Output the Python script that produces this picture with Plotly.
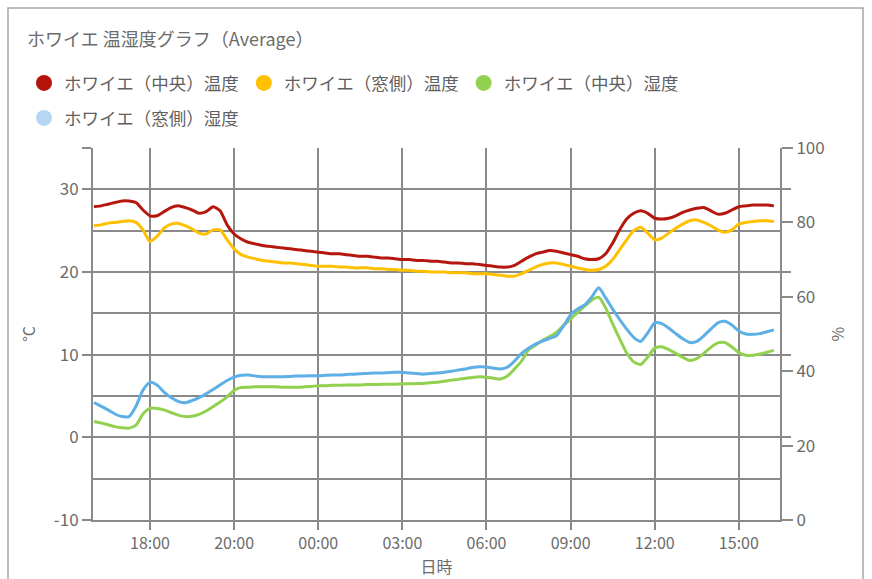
import plotly.graph_objects as go

# ---------------- data ----------------
times = [
    "16:40", "16:50", "17:00", "17:10", "17:20", "17:30", "17:40", "17:50",
    "18:00", "18:10", "18:20", "18:30", "18:40", "18:50", "19:00", "19:10", "19:20", "19:30", "19:40", "19:50",
    "20:00", "20:20", "20:40", "21:00", "21:20", "21:40", "22:00", "22:20", "22:40", "23:00", "23:20", "23:40",
    "00:00", "00:15", "00:30", "00:45", "01:00", "01:15", "01:30", "01:45", "02:00", "02:15", "02:30", "02:45",
    "03:00", "03:15", "03:30", "03:45", "04:00", "04:15", "04:30", "04:45", "05:00", "05:15", "05:30", "05:45",
    "06:00", "06:15", "06:30", "06:45", "07:00", "07:15", "07:30", "07:45", "08:00", "08:15", "08:30", "08:45",
    "09:00", "09:15", "09:30", "09:45", "10:00", "10:15", "10:30", "10:45", "11:00", "11:15", "11:30", "11:45",
    "12:00", "12:15", "12:30", "12:45", "13:00", "13:15", "13:30", "13:45", "14:00", "14:15", "14:30", "14:45",
    "15:00", "15:15", "15:30", "15:45", "16:00", "16:15",
]

tick_labels = ["18:00", "20:00", "00:00", "03:00", "06:00", "09:00", "12:00", "15:00"]

temp_center = [
    27.9, 28.0, 28.2, 28.4, 28.6, 28.6, 28.4, 27.5,
    26.8, 26.8, 27.3, 27.8, 28.0, 27.8, 27.5, 27.1, 27.3, 27.9, 27.4, 25.7,
    24.6, 24.0, 23.6, 23.4, 23.2, 23.1, 23.0, 22.9, 22.8, 22.7, 22.6, 22.5,
    22.4, 22.3, 22.2, 22.2, 22.1, 22.0, 21.9, 21.9, 21.8, 21.7, 21.7, 21.6,
    21.5, 21.5, 21.4, 21.4, 21.3, 21.3, 21.2, 21.1, 21.1, 21.0, 21.0, 20.9,
    20.8, 20.7, 20.6, 20.6, 20.8, 21.3, 21.8, 22.2, 22.4, 22.6, 22.5, 22.3,
    22.1, 21.9, 21.6, 21.5, 21.6, 22.2, 23.5, 25.1, 26.4, 27.1, 27.4, 27.1,
    26.5, 26.4, 26.5, 26.8, 27.2, 27.5, 27.7, 27.8, 27.4, 27.0, 27.1, 27.5,
    27.9, 28.0, 28.1, 28.1, 28.1, 28.0,
]

temp_window = [
    25.6, 25.7, 25.9, 26.0, 26.1, 26.2, 26.0, 25.1,
    23.7, 24.3, 25.3, 25.8, 25.9, 25.6, 25.2, 24.7, 24.6, 25.1, 25.1, 23.9,
    22.8, 22.1, 21.8, 21.6, 21.4, 21.3, 21.2, 21.1, 21.1, 21.0, 20.9, 20.8,
    20.7, 20.7, 20.7, 20.6, 20.6, 20.5, 20.5, 20.5, 20.4, 20.4, 20.3, 20.3,
    20.2, 20.2, 20.1, 20.1, 20.0, 20.0, 20.0, 19.9, 19.9, 19.9, 19.8, 19.8,
    19.8, 19.7, 19.6, 19.5, 19.5, 19.8, 20.2, 20.6, 20.9, 21.1, 21.1, 20.9,
    20.7, 20.5, 20.3, 20.2, 20.3, 20.7, 21.5, 22.7, 23.9, 25.0, 25.4, 24.7,
    23.9, 24.1, 24.7, 25.3, 25.8, 26.2, 26.3, 26.0, 25.6, 25.1, 24.8, 25.1,
    25.8, 26.0, 26.1, 26.2, 26.2, 26.1,
]

hum_center = [
    26.5, 26.1, 25.6, 25.1, 24.8, 24.7, 25.5, 28.5,
    30.0, 30.0, 29.6, 28.9, 28.2, 27.8, 27.9, 28.4, 29.3, 30.5, 31.7, 33.1,
    34.9, 35.6, 35.7, 35.8, 35.8, 35.8, 35.8, 35.7, 35.7, 35.7, 35.8, 35.9,
    36.1, 36.1, 36.2, 36.2, 36.3, 36.3, 36.3, 36.4, 36.4, 36.5, 36.5, 36.5,
    36.6, 36.6, 36.7, 36.7, 36.9, 37.0, 37.3, 37.6, 37.8, 38.1, 38.3, 38.5,
    38.4, 38.1, 37.9, 38.7, 40.6, 42.7, 45.7, 47.0, 48.3, 49.3, 50.5, 52.3,
    54.0, 55.8, 57.5, 59.1, 59.9, 57.0, 52.7, 48.7, 44.9, 42.5, 41.8, 43.8,
    46.2, 46.6, 45.8, 44.8, 43.7, 42.9, 43.4, 44.8, 46.4, 47.6, 47.7, 46.5,
    45.0, 44.3, 44.3, 44.6, 45.1, 45.6,
]

hum_window = [
    31.6, 30.6, 29.6, 28.5, 27.8, 27.8, 30.6, 34.9,
    37.0, 36.3, 34.4, 32.9, 31.9, 31.5, 32.1, 32.9, 33.9, 35.1, 36.3, 37.5,
    38.4, 38.9, 39.0, 38.7, 38.5, 38.5, 38.5, 38.5, 38.6, 38.7, 38.7, 38.8,
    38.8, 38.9, 39.0, 39.0, 39.1, 39.2, 39.3, 39.4, 39.5, 39.5, 39.6, 39.7,
    39.7, 39.5, 39.4, 39.2, 39.4, 39.5, 39.7, 40.0, 40.3, 40.6, 41.0, 41.2,
    41.1, 40.8, 40.6, 41.1, 42.7, 44.8, 46.2, 47.3, 48.1, 48.8, 49.6, 52.2,
    55.2, 56.7, 57.8, 59.9, 62.4, 59.7, 56.7, 53.9, 51.3, 49.1, 48.0, 50.3,
    53.0, 52.8, 51.6, 50.1, 48.7, 47.7, 48.0, 49.5, 51.3, 53.0, 53.4, 52.4,
    50.8, 50.0, 49.9, 50.1, 50.6, 51.1,
]

series_names = ["ホワイエ（中央）温度", "ホワイエ（窓側）温度", "ホワイエ（中央）湿度", "ホワイエ（窓側）湿度"]
line_colors = ["#B5170E", "#FFC000", "#92D050", "#5DAFE6"]
legend_colors = ["#B5120C", "#FFC000", "#92D050", "#B7D6F4"]

# ---------------- figure ----------------
FONT = "Noto Sans CJK JP"
TXT = "#6b6b6b"
GRID = "#8a8a8a"

fig = go.Figure()

series = [(temp_center, "y"), (temp_window, "y"), (hum_center, "y2"), (hum_window, "y2")]
for (vals, ax), name, col in zip(series, series_names, line_colors):
    fig.add_trace(go.Scatter(
        x=times, y=vals, name=name, yaxis=ax, mode="lines",
        line=dict(color=col, width=3, shape="spline", smoothing=0.6),
        showlegend=False, hoverinfo="x+y+name",
    ))

# legend entries (circle markers)
for k, (name, col) in enumerate(zip(series_names, legend_colors)):
    fig.add_trace(go.Scatter(
        x=[None], y=[None], name=name, mode="markers",
        marker=dict(color=col, size=16, symbol="circle"),
        legend="legend" if k < 3 else "legend2", showlegend=True,
    ))

# panel border
fig.add_shape(type="rect", xref="paper", yref="paper",
              x0=(8 - 93) / 687, x1=(863 - 93) / 687,
              y0=(520 - 620) / 372, y1=(520 - 8) / 372,
              line=dict(color="#a6a6a6", width=1.5), fillcolor="rgba(0,0,0,0)", layer="below")

fig.update_layout(
    width=872, height=579,
    margin=dict(l=93, r=92, t=148, b=59, autoexpand=False),
    paper_bgcolor="white", plot_bgcolor="white",
    font=dict(family=FONT, color=TXT, size=16),
    title=dict(text="ホワイエ 温湿度グラフ（Average）", x=27 / 872, xref="container", xanchor="left",
               y=1 - 40 / 579, yref="container", yanchor="middle",
               font=dict(family=FONT, size=18, color=TXT)),
    legend=dict(orientation="h", xref="container", yref="container", x=24 / 872, y=1 - 83 / 579,
                xanchor="left", yanchor="middle", font=dict(family=FONT, size=17.5, color="#5f5f5f"),
                bgcolor="rgba(0,0,0,0)", itemclick=False),
    legend2=dict(orientation="h", xref="container", yref="container", x=24 / 872, y=1 - 118 / 579,
                 xanchor="left", yanchor="middle", font=dict(family=FONT, size=17.5, color="#5f5f5f"),
                 bgcolor="rgba(0,0,0,0)", itemclick=False),
    xaxis=dict(
        type="category", range=[-0.13, 97.87], tickmode="array",
        tickvals=tick_labels, ticktext=tick_labels,
        ticks="outside", ticklen=8, tickwidth=2, tickcolor=GRID,
        showgrid=True, gridcolor=GRID, gridwidth=2,
        showline=True, linecolor=GRID, linewidth=2,
        tickfont=dict(family=FONT, size=16, color=TXT),
        title=dict(text="日時", standoff=2, font=dict(family=FONT, size=16, color=TXT)),
        zeroline=False, automargin=False,
    ),
    yaxis=dict(
        range=[-10, 35], tickmode="array",
        tickvals=[-10, 0, 10, 20, 30, 35], ticktext=["-10", "0", "10", "20", "30", ""],
        ticks="outside", ticklen=9, tickwidth=2, tickcolor=GRID,
        showgrid=True, gridcolor=GRID, gridwidth=2,
        minor=dict(tickmode="array", tickvals=[-5, 5, 15, 25], showgrid=True,
                   gridcolor=GRID, gridwidth=2, ticks=""),
        showline=True, linecolor=GRID, linewidth=2, mirror="ticks",
        tickfont=dict(family=FONT, size=17, color=TXT),
        title=dict(text="°C", standoff=14, font=dict(family=FONT, size=16, color=TXT)),
        zeroline=False, automargin=False,
    ),
    yaxis2=dict(
        range=[0, 100], overlaying="y", side="right", tickmode="array",
        tickvals=[0, 20, 40, 60, 80, 100],
        ticks="outside", ticklen=11, tickwidth=2, tickcolor=GRID,
        showgrid=False, showline=True, linecolor=GRID, linewidth=2,
        tickfont=dict(family=FONT, size=17, color=TXT),
        title=dict(text="%", standoff=9, font=dict(family=FONT, size=16, color=TXT)),
        zeroline=False, automargin=False,
    ),
)

fig.write_html("out.html", config={"displayModeBar": False},
               post_script="document.body.style.margin='0';")
